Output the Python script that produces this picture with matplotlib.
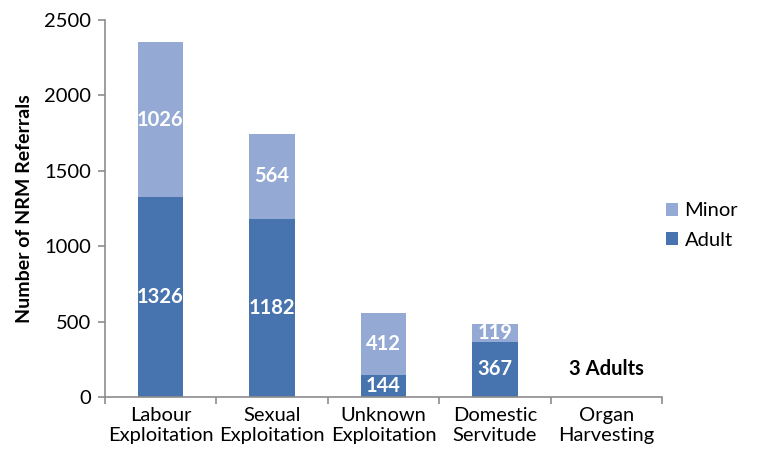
import numpy as np
import matplotlib.pyplot as plt
from matplotlib.ticker import FixedLocator

plt.rcParams["font.family"] = ["Lato", "DejaVu Sans"]

categories = ["Labour\nExploitation", "Sexual\nExploitation", "Unknown\nExploitation",
              "Domestic\nServitude", "Organ\nHarvesting"]
adult = [1326, 1182, 144, 367, 3]
minor = [1026, 564, 412, 119, 0]

ADULT_C = "#4773ae"
MINOR_C = "#94aad4"
AXIS_C = "#8c8c8c"
FS = 14.5

fig = plt.figure(figsize=(7.7, 4.66), dpi=100)
ax = fig.add_axes([0.136, 0.148, 0.724, 0.809])

x = np.arange(len(categories))
w = 0.405
ax.bar(x, adult, w, color=ADULT_C, label="Adult", zorder=2)
ax.bar(x, minor, w, bottom=adult, color=MINOR_C, label="Minor", zorder=2)

for i, (a, m) in enumerate(zip(adult, minor)):
    if a > 50:
        ax.text(i, a / 2, str(a), ha="center", va="center", color="white",
                fontsize=FS, fontweight="bold", zorder=3)
    if m > 0:
        ax.text(i, a + m / 2, str(m), ha="center", va="center", color="white",
                fontsize=FS, fontweight="bold", zorder=3)
ax.text(4, 185, f"{adult[4]} Adults", ha="center", va="center", color="black",
        fontsize=FS, fontweight="bold")

ax.set_xlim(-0.5, len(categories) - 0.5)
ax.set_ylim(0, 2500)
ax.set_yticks(np.arange(0, 2501, 500))
ax.set_xticks(x)
ax.set_xticklabels(categories, fontsize=FS, linespacing=1.25)
ax.xaxis.set_minor_locator(FixedLocator(np.arange(-0.5, len(categories), 1.0)))
ax.tick_params(axis="x", which="major", length=0, pad=7)
ax.tick_params(axis="x", which="minor", length=5, color=AXIS_C, width=1.2)
ax.tick_params(axis="y", length=5, color=AXIS_C, width=1.2, labelsize=FS, pad=5)
ax.set_ylabel("Number of NRM Referrals", fontsize=14, fontweight="bold", labelpad=8)

for s in ["top", "right"]:
    ax.spines[s].set_visible(False)
for s in ["left", "bottom"]:
    ax.spines[s].set_color(AXIS_C)
    ax.spines[s].set_linewidth(1.2)

h, l = ax.get_legend_handles_labels()
ax.legend(h[::-1], l[::-1], loc="center left", bbox_to_anchor=(0.975, 0.455),
          frameon=False, fontsize=FS, handlelength=0.6, handleheight=0.6,
          handletextpad=0.3, labelspacing=0.6)

fig.savefig("out.png", dpi=100)
